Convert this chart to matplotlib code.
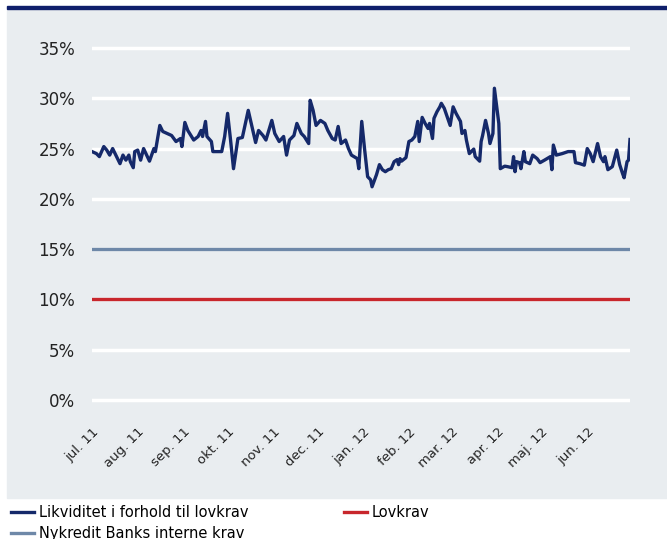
import matplotlib
matplotlib.use("Agg")
import matplotlib.pyplot as plt
import numpy as np
import pandas as pd

plt.rcParams['font.family'] = ['Liberation Sans Narrow', 'DejaVu Sans']

# dage efter 1. juli 2011 og likviditet i forhold til lovkrav (%)
start = pd.Timestamp('2011-07-01')
dage = [0, 3, 5, 8, 10, 12, 14, 19, 21, 23, 25, 26, 28, 29, 31, 33, 35, 39, 42, 43,
        46, 48, 54, 57, 60, 61, 63, 65, 69, 72, 74, 75, 77, 78, 81, 82, 86, 88, 90, 92,
        94, 96, 99, 102, 106, 108, 111, 113, 116, 118, 122, 124, 127, 130, 132, 134, 137, 139, 142, 144,
        147, 148, 150, 152, 155, 158, 160, 163, 165, 167, 169, 172, 174, 176, 180, 181, 183, 185, 187, 189,
        190, 192, 193, 195, 197, 199, 201, 203, 205, 207, 208, 209, 210, 213, 215, 217, 219, 221, 222, 224,
        226, 228, 229, 231, 232, 234, 236, 237, 239, 243, 245, 247, 250, 251, 253, 254, 256, 259, 260, 263,
        264, 265, 267, 269, 270, 272, 273, 276, 277, 280, 282, 285, 286, 287, 288, 290, 291, 293, 294, 297,
        299, 302, 304, 307, 311, 312, 313, 315, 319, 323, 327, 328, 331, 334, 336, 338, 340, 343, 345, 347,
        348, 350, 353, 356, 358, 360, 361, 363, 364, 365]
likviditet = [24.7, 24.5, 24.2, 25.2, 24.85, 24.35, 25.0, 23.5, 24.35, 23.85, 24.35, 23.7, 23.1, 24.7, 24.85, 23.85, 25.0, 23.75, 25.0, 24.7,
              27.3, 26.7, 26.3, 25.7, 26.0, 25.2, 27.6, 26.8, 25.85, 26.2, 26.8, 26.2, 27.7, 26.2, 25.7, 24.7, 24.7, 24.7, 26.2, 28.5,
              25.85, 23.0, 26.0, 26.1, 28.8, 27.5, 25.6, 26.8, 26.3, 25.85, 27.8, 26.5, 25.7, 26.2, 24.35, 25.85, 26.3, 27.5, 26.5, 26.2,
              25.5, 29.8, 28.8, 27.3, 27.8, 27.5, 26.8, 26.0, 25.85, 27.2, 25.5, 25.85, 25.0, 24.35, 24.0, 23.0, 27.7, 24.85, 22.2, 21.9,
              21.2, 22.0, 22.4, 23.4, 22.9, 22.7, 22.9, 23.0, 23.7, 23.9, 23.4, 24.0, 23.75, 24.1, 25.7, 25.85, 26.2, 27.7, 25.7, 28.1,
              27.5, 27.0, 27.5, 26.0, 28.0, 28.65, 29.15, 29.5, 29.0, 27.3, 29.15, 28.5, 27.7, 26.5, 26.8, 25.85, 24.5, 24.95, 24.2, 23.75,
              25.7, 26.3, 27.8, 26.5, 25.5, 26.5, 31.0, 27.5, 23.0, 23.25, 23.2, 23.1, 24.2, 22.7, 23.7, 23.6, 23.0, 24.7, 23.7, 23.5,
              24.35, 24.0, 23.6, 23.85, 24.2, 22.9, 25.35, 24.35, 24.5, 24.7, 24.7, 23.6, 23.5, 23.35, 25.0, 24.5, 23.7, 25.5, 24.2, 23.7,
              24.2, 22.9, 23.2, 24.85, 23.4, 22.5, 22.1, 23.7, 23.85, 25.9]
lovkrav = 10
interne_krav = 15

y_ticks = [0, 5, 10, 15, 20, 25, 30, 35]
maaneder = ['jul. 11', 'aug. 11', 'sep. 11', 'okt. 11', 'nov. 11', 'dec. 11',
            'jan. 12', 'feb. 12', 'mar. 12', 'apr. 12', 'maj. 12', 'jun. 12']

datoer = start + pd.to_timedelta(dage, unit='D')
slut = start + pd.Timedelta(days=365)

navy = '#15296a'
blaa = '#6e88a8'
roed = '#c8262c'
bg = '#e9edf0'
fs = 10.5

W, H = 667, 539
fig = plt.figure(figsize=(W / 100, H / 100), dpi=100)

# grå baggrund og mørkeblå streg i toppen
fig.patches.append(plt.Rectangle((7 / W, 1 - 498 / H), 1 - 7 / W, (498 - 10) / H,
                                 transform=fig.transFigure, color=bg, zorder=-2))
fig.patches.append(plt.Rectangle((7 / W, 1 - 9 / H), 1 - 7 / W, 3 / H,
                                 transform=fig.transFigure, color='#0f1f6b', zorder=-2))

ymin, ymax = -1, 36
px = 352 / 35
y_bot = 400 + (0 - ymin) * px
y_top = 400 - (ymax - 0) * px
ax = fig.add_axes([92 / W, 1 - y_bot / H, (630 - 92) / W, (y_bot - y_top) / H])
ax.set_facecolor('none')

l1, = ax.plot(datoer, likviditet, color=navy, lw=2.4, zorder=3)
l2, = ax.plot([start, slut], [lovkrav, lovkrav], color=roed, lw=2.4, zorder=3)
l3, = ax.plot([start, slut], [interne_krav, interne_krav], color=blaa, lw=2.4, zorder=3)

ax.set_xlim(start, slut)
ax.set_ylim(ymin, ymax)
ax.set_yticks(y_ticks)
ax.set_yticklabels([f'{v}%' for v in y_ticks])
ax.yaxis.grid(True, color='white', lw=2.5)
ax.set_axisbelow(True)
for s in ax.spines.values():
    s.set_visible(False)

ticks = pd.date_range(start, periods=12, freq='MS')
ax.set_xticks(ticks)
ax.set_xticklabels(maaneder, rotation=45, ha='right', va='top', rotation_mode='anchor')
ax.tick_params(axis='both', length=0, colors='#222222')
ax.tick_params(axis='y', pad=12, labelsize=12)
ax.tick_params(axis='x', pad=11, labelsize=9.5)

leg1 = fig.legend([l1, l3], ['Likviditet i forhold til lovkrav', 'Nykredit Banks interne krav'],
                  loc='upper left', bbox_to_anchor=(5 / W, 1 - 499 / H), frameon=False,
                  fontsize=fs, handlelength=1.6, handletextpad=0.3,
                  labelspacing=0.45, borderaxespad=0)
leg2 = fig.legend([l2], ['Lovkrav'],
                  loc='upper left', bbox_to_anchor=(338 / W, 1 - 499 / H), frameon=False,
                  fontsize=fs, handlelength=1.6, handletextpad=0.3, borderaxespad=0)

fig.savefig('out.png', dpi=100)
